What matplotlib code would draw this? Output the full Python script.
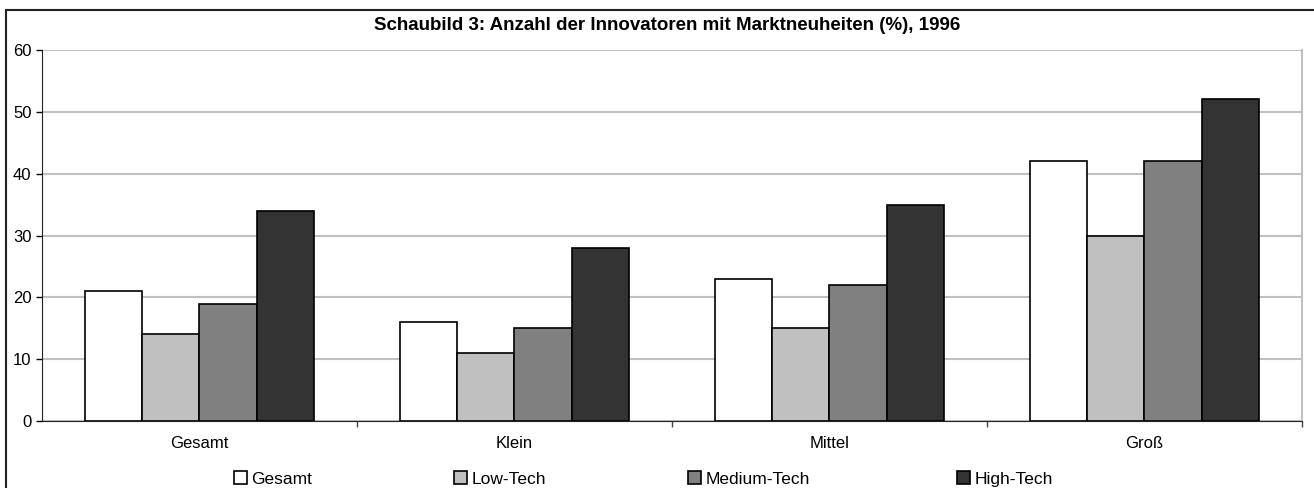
import numpy as np
import matplotlib.pyplot as plt
from matplotlib.patches import Rectangle

plt.rcParams['font.family'] = ['Liberation Sans', 'DejaVu Sans']

# Daten
kategorien = ["Gesamt", "Klein", "Mittel", "Groß"]
serien = ["Gesamt", "Low-Tech", "Medium-Tech", "High-Tech"]
gesamt = [21, 16, 23, 42]
low_tech = [14, 11, 15, 30]
medium_tech = [19, 15, 22, 42]
high_tech = [34, 28, 35, 52]
farben = ["#ffffff", "#c0c0c0", "#808080", "#333333"]

werte = [gesamt, low_tech, medium_tech, high_tech]

fig = plt.figure(figsize=(13.14, 4.88), dpi=100)
ax = fig.add_axes([42 / 1314, 67 / 488, 1260 / 1314, 371 / 488])

# Rahmen um das ganze Schaubild (rechts und unten abgeschnitten)
fig.patches.append(Rectangle((6 / 1314, -0.1), 1.2, (478 / 488) + 0.1, transform=fig.transFigure,
                             fill=False, edgecolor="#222222", linewidth=1.5, clip_on=False))

x = np.arange(len(kategorien))
breite = 1 / (4 + 1.5)
handles = []
for i, (w, f) in enumerate(zip(werte, farben)):
    pos = x - 2 * breite + i * breite + breite / 2
    b = ax.bar(pos, w, breite, color=f, edgecolor="black", linewidth=1.2, zorder=3)
    handles.append(b)

ax.set_xlim(-0.5, len(kategorien) - 0.5)
ax.set_ylim(0, 60)
ax.set_yticks(np.arange(0, 61, 10))
ax.yaxis.grid(True, color="#c0c0c0", linewidth=1.5, zorder=0)
ax.set_axisbelow(True)

ax.set_xticks(x)
ax.set_xticklabels(kategorien, fontsize=12)
ax.set_xticks(np.arange(0.5, len(kategorien) - 0.4, 1), minor=True)
ax.tick_params(axis="x", which="major", length=0, pad=11)
ax.tick_params(axis="x", which="minor", length=4.5, width=1, color="#444444")
ax.tick_params(axis="y", length=4.5, width=1, labelsize=12, pad=3)

ax.spines["top"].set_visible(False)
ax.spines["right"].set_color("#c0c0c0")
ax.spines["right"].set_linewidth(1.5)
ax.spines["left"].set_color("#222222")
ax.spines["bottom"].set_color("#222222")

fig.text(667 / 1314, 1 - 25 / 488, "Schaubild 3: Anzahl der Innovatoren mit Marktneuheiten (%), 1996",
         ha="center", va="center", fontsize=13.5, fontweight="bold")

# Legende
legende_x = [234, 454, 688, 957]
for h, name, lx in zip(handles, serien, legende_x):
    fig.legend([h], [name], loc="center left", bbox_to_anchor=(lx / 1314, 1 - 479 / 488),
               frameon=False, fontsize=12.5, handlelength=0.75, handleheight=0.75,
               handletextpad=0.25, borderaxespad=0, borderpad=0)

fig.savefig("out.png", dpi=100)
